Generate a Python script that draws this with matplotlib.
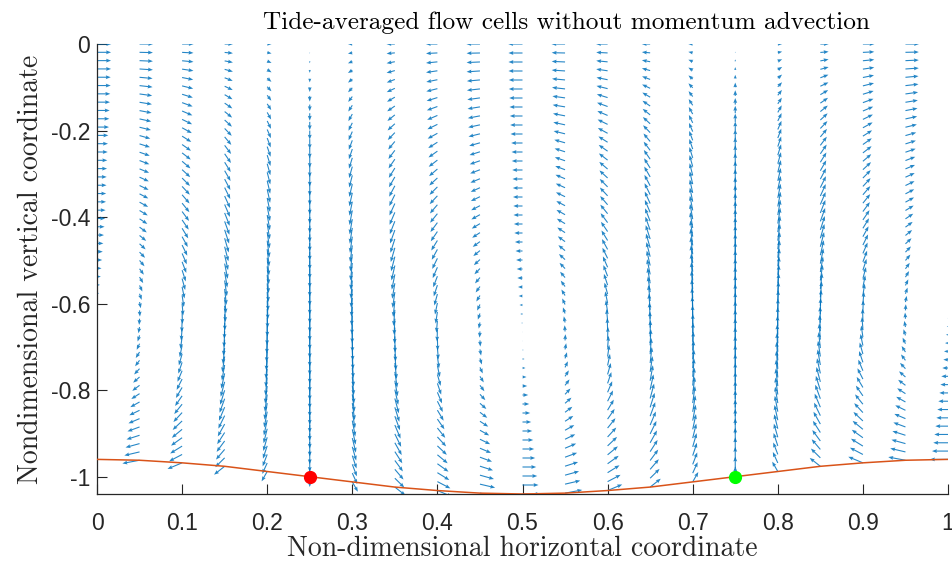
import numpy as np
import matplotlib
matplotlib.use("Agg")
import matplotlib.pyplot as plt

# column positions of the arrows (non-dimensional x)
x_cols = [0.00, 0.05, 0.10, 0.15, 0.20, 0.25, 0.30, 0.35, 0.40, 0.45, 0.50,
          0.55, 0.60, 0.65, 0.70, 0.75, 0.80, 0.85, 0.90, 0.95, 1.00]

# bed level at each column
bed_y = [-0.960, -0.962, -0.968, -0.976, -0.988, -1.000, -1.012, -1.024, -1.032, -1.038, -1.040,
         -1.038, -1.032, -1.024, -1.012, -1.000, -0.988, -0.976, -0.968, -0.962, -0.960]

# sigma levels (fraction of local depth), surface to bed
sigma_levels = [0.00, -0.02, -0.04, -0.06, -0.08, -0.10, -0.12, -0.14, -0.16, -0.18,
                -0.20, -0.22, -0.24, -0.26, -0.28, -0.30, -0.32, -0.34, -0.36, -0.38,
                -0.40, -0.42, -0.44, -0.46, -0.48, -0.50, -0.52, -0.54, -0.56, -0.58,
                -0.60, -0.62, -0.64, -0.66, -0.68, -0.70, -0.72, -0.74, -0.76, -0.78,
                -0.80, -0.82, -0.84, -0.86, -0.88, -0.90, -0.92, -0.94, -0.96, -0.98,
                -1.00]

# horizontal arrow component at x = 0 (thousandths of x-range)
u_profile = [16.8, 16.5, 16.5, 16.5, 16.1, 16.1, 15.6, 15.3, 14.9, 14.5,
             14.1, 13.3, 12.9, 12.6, 12.1, 11.8, 11.4, 11.2, 10.8, 10.6,
             10.1, 9.6, 8.9, 8.2, 7.5, 6.8, 6.1, 5.3, 4.5, 3.5,
             2.6, 1.5, 0.5, -0.5, -1.4, -2.4, -3.5, -4.7, -5.5, -6.7,
             -7.9, -9.0, -10.2, -11.4, -12.6, -13.7, -14.9, -16.1, -17.3, -18.8,
             -21.2]

# downward arrow component at x = 0.25 (thousandths of y-range)
w_profile = [0.0, 2.2, 4.4, 6.6, 8.8, 10.9, 13.1, 15.1, 17.2, 19.1,
             21.0, 22.8, 24.6, 26.3, 27.9, 29.5, 31.1, 32.6, 34.1, 35.5,
             36.9, 38.2, 39.4, 40.6, 41.6, 42.6, 43.5, 44.2, 44.9, 45.4,
             45.8, 46.1, 46.2, 46.2, 46.1, 45.8, 45.4, 44.9, 44.2, 43.4,
             42.4, 41.3, 40.0, 38.6, 37.0, 35.2, 33.3, 31.2, 29.0, 26.6,
             23.9]

# relative strength of each component per column
col_u = [1.0, 0.951, 0.809, 0.588, 0.309, 0.0, -0.309, -0.588, -0.809, -0.951, -1.0,
         -0.951, -0.809, -0.588, -0.309, 0.0, 0.309, 0.588, 0.809, 0.951, 1.0]
col_w = [0.0, 0.309, 0.588, 0.809, 0.951, 1.0, 0.951, 0.809, 0.588, 0.309, 0.0,
         -0.309, -0.588, -0.809, -0.951, -1.0, -0.951, -0.809, -0.588, -0.309, 0.0]

# marked points on the bed
red_pt = (0.25, -1.0)
green_pt = (0.75, -1.0)

xticks = [0, 0.1, 0.2, 0.3, 0.4, 0.5, 0.6, 0.7, 0.8, 0.9, 1]
xticklabels = ['0', '0.1', '0.2', '0.3', '0.4', '0.5', '0.6', '0.7', '0.8', '0.9', '1']
yticks = [0, -0.2, -0.4, -0.6, -0.8, -1]
yticklabels = ['0', '-0.2', '-0.4', '-0.6', '-0.8', '-1']

depth = -np.array(bed_y)
X = np.tile(np.array(x_cols), (len(sigma_levels), 1))
Y = np.outer(sigma_levels, depth)
U = np.outer(u_profile, col_u) / 1000.0
V = -np.outer(w_profile, col_w) / 1000.0

fig = plt.figure(figsize=(9.52, 5.62), dpi=100)
fig.patch.set_facecolor('white')
ax = fig.add_axes([97 / 952, 1 - 494 / 562, 851 / 952, 450 / 562])

ax.quiver(X, Y, U, V, angles='xy', scale_units='xy', scale=1,
          units='dots', width=1.1, headwidth=3.5, headlength=4.5, headaxislength=4.0,
          minlength=0, color='#0072BD', alpha=0.85, zorder=2)

ax.plot(x_cols, bed_y, color='#D95319', linewidth=1.1, zorder=3)
ax.plot(*red_pt, 'o', color='#FF0000', markersize=8.5, zorder=4)
ax.plot(*green_pt, 'o', color='#00FF00', markersize=8.5, zorder=4)

ax.set_xlim(0, 1)
ax.set_ylim(-1.04, 0)

ax.spines['top'].set_visible(False)
ax.spines['right'].set_visible(False)
for s in ['left', 'bottom']:
    ax.spines[s].set_color('#262626')
    ax.spines[s].set_linewidth(0.9)

ax.set_xticks(xticks)
ax.set_xticklabels(xticklabels)
ax.set_yticks(yticks)
ax.set_yticklabels(yticklabels)
ax.tick_params(axis='both', direction='in', length=7, width=0.8, colors='#262626',
               labelsize=16.5)
ax.tick_params(axis='x', pad=13)
ax.tick_params(axis='y', pad=5)
for lab in ax.get_xticklabels() + ax.get_yticklabels():
    lab.set_family('Liberation Sans')

serif = ['cmr10', 'DejaVu Serif']
title = ax.set_title('Tide-averaged flow cells without momentum advection',
                     family=serif, fontsize=18.2, color='black', pad=11)
title.set_x(0.552)
ax.set_xlabel('Non-dimensional horizontal coordinate', family=serif, fontsize=20,
              color='#262626', labelpad=0.5)
ax.set_ylabel('Nondimensional vertical coordinate', family=serif, fontsize=20,
              color='#262626', labelpad=5)

fig.savefig('out.png', dpi=100)
